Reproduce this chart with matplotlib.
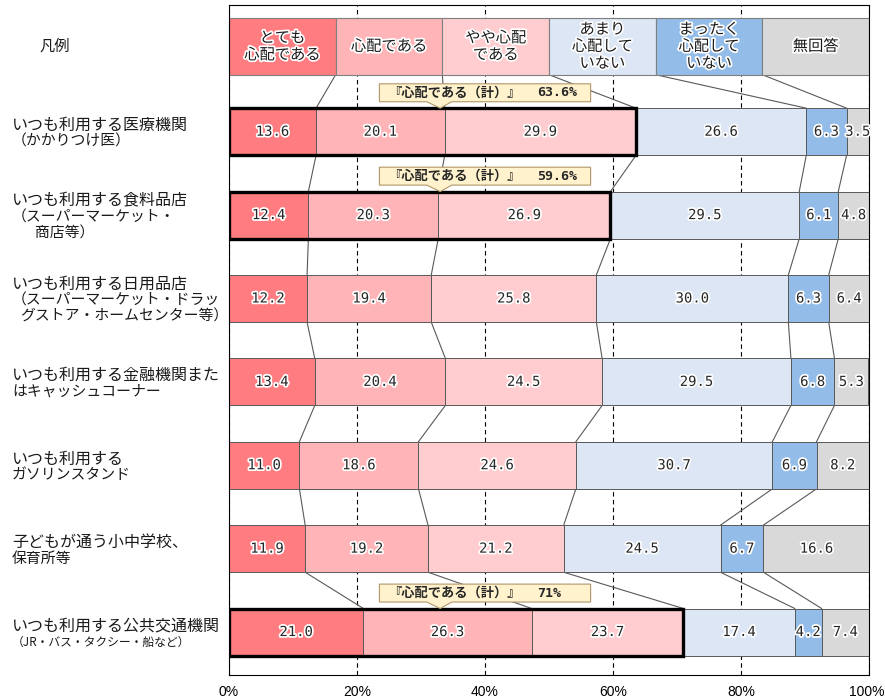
import matplotlib
matplotlib.use("Agg")
import matplotlib.pyplot as plt
import matplotlib.patheffects as pe
from matplotlib.patches import Rectangle, Polygon
from matplotlib.transforms import blended_transform_factory, ScaledTranslation
import numpy as np

# ---------------- data ----------------
category_lines = [
    ["いつも利用する医療機関", "（かかりつけ医）"],
    ["いつも利用する食料品店", "（スーパーマーケット・", "　商店等）"],
    ["いつも利用する日用品店", "（スーパーマーケット・ドラッ", "グストア・ホームセンター等）"],
    ["いつも利用する金融機関また", "はキャッシュコーナー"],
    ["いつも利用する", "ガソリンスタンド"],
    ["子どもが通う小中学校、", "保育所等"],
    ["いつも利用する公共交通機関", "（JR・バス・タクシー・船など）"],
]
legend_labels = ["とても\n心配である", "心配である", "やや心配\nである",
                 "あまり\n心配して\nいない", "まったく\n心配して\nいない", "無回答"]
very_worried     = [13.6, 12.4, 12.2, 13.4, 11.0, 11.9, 21.0]
worried          = [20.1, 20.3, 19.4, 20.4, 18.6, 19.2, 26.3]
somewhat_worried = [29.9, 26.9, 25.8, 24.5, 24.6, 21.2, 23.7]
not_much         = [26.6, 29.5, 30.0, 29.5, 30.7, 24.5, 17.4]
not_at_all       = [6.3, 6.1, 6.3, 6.8, 6.9, 6.7, 4.2]
no_answer        = [3.5, 4.8, 6.4, 5.3, 8.2, 16.6, 7.4]
highlight_rows = [0, 1, 6]
callout_title = "『心配である（計）』"
xtick_values = [0, 20, 40, 60, 80, 100]
xtick_labels = ["0%", "20%", "40%", "60%", "80%", "100%"]

colors = ["#FF7C80", "#FFB5B8", "#FFCDD0", "#DCE6F4", "#93BCE8", "#D9D9D9"]

series = [very_worried, worried, somewhat_worried, not_much, not_at_all, no_answer]
data = np.array(series).T  # rows x segments

JP = "Noto Sans CJK JP"
plt.rcParams["font.family"] = [JP, "DejaVu Sans"]

W, H = 885, 699
fig = plt.figure(figsize=(W / 100, H / 100), dpi=100)
ax = fig.add_axes([229 / W, 24 / H, 640 / W, 670 / H])
ax.set_xlim(0, 100)
ax.set_ylim(7.515, -0.52)

bar_h = 0.565
leg_y, leg_h = -0.024, 0.68
halo = [pe.withStroke(linewidth=2.5, foreground="white")]

# grid and ticks
ax.set_xticks(xtick_values)
ax.set_xticklabels(xtick_labels[:-1] + [""], fontfamily="Liberation Sans", fontsize=10)
ax.set_yticks([])
ax.tick_params(axis="x", length=0, pad=7)
ax.grid(axis="x", color="black", linestyle=(0, (4, 3)), linewidth=0.8)
ax.set_axisbelow(True)
for s in ax.spines.values():
    s.set_color("black")
    s.set_linewidth(0.8)
# last tick label, right-aligned so it stays inside the figure
last_trans = blended_transform_factory(ax.transData, ax.transAxes) + \
    ScaledTranslation(16 / 100, -7 / 72, fig.dpi_scale_trans)
ax.text(xtick_values[-1], 0, xtick_labels[-1], transform=last_trans,
        ha="right", va="top", fontfamily="Liberation Sans", fontsize=10,
        clip_on=False)

# legend row
n_seg = len(legend_labels)
leg_w = 100 / n_seg
leg_left = np.arange(n_seg) * leg_w
ax.barh([leg_y] * n_seg, [leg_w] * n_seg, left=leg_left, height=leg_h,
        color=colors, edgecolor="#7F7F7F", linewidth=0.8, zorder=2)
for k, lab in enumerate(legend_labels):
    ax.text(leg_left[k] + leg_w / 2, leg_y, lab, ha="center", va="center",
            fontsize=11, color="#1a1a1a", linespacing=1.0, zorder=5,
            path_effects=halo)

fig.text(55 / W, 1 - 46 / H, "凡例", ha="center", va="center", fontsize=11,
         color="#1a1a1a")

# bars
ys = np.arange(1, len(category_lines) + 1)
lefts = np.hstack([np.zeros((len(ys), 1)), np.cumsum(data, axis=1)[:, :-1]])
for j in range(n_seg):
    ax.barh(ys, data[:, j], left=lefts[:, j], height=bar_h, color=colors[j],
            edgecolor="#595959", linewidth=0.7, zorder=2)
    for i, y in enumerate(ys):
        ax.text(lefts[i, j] + data[i, j] / 2, y, f"{data[i, j]:.1f}",
                ha="center", va="center", fontsize=10,
                fontfamily="DejaVu Sans Mono", color="#262626", zorder=5,
                path_effects=halo)

# connector lines
cums = np.cumsum(data, axis=1)[:, :-1]
leg_bounds = leg_left[1:]
ax_lines_kw = dict(color="#595959", linewidth=0.8, zorder=1.5)
for k in range(n_seg - 1):
    ax.plot([leg_bounds[k], cums[0, k]], [leg_y + leg_h / 2, ys[0] - bar_h / 2], **ax_lines_kw)
for i in range(len(ys) - 1):
    for k in range(n_seg - 1):
        ax.plot([cums[i, k], cums[i + 1, k]],
                [ys[i] + bar_h / 2, ys[i + 1] - bar_h / 2], **ax_lines_kw)

# highlight outlines and callouts
for i in highlight_rows:
    y = ys[i]
    total = round(float(data[i, :3].sum()), 1)
    ax.add_patch(Rectangle((0, y - bar_h / 2), total, bar_h, fill=False,
                           edgecolor="black", linewidth=2.4, zorder=4))
    L, R = 23.5, 56.5
    top, bot, tip = y - 0.575, y - 0.36, y - bar_h / 2
    pts = [(L, top), (R, top), (R, bot), (34.8, bot), (33.0, tip),
           (30.9, bot), (L, bot)]
    ax.add_patch(Polygon(pts, closed=True, facecolor="#FFF2CC",
                         edgecolor="#B0976A", linewidth=0.8, zorder=6))
    cy = (top + bot) / 2
    ax.text(L + 1.4, cy, callout_title, ha="left", va="center", fontsize=9.5,
            fontweight="bold", color="#262626", zorder=7)
    ax.text(48.1, cy, f"{total:g}%", ha="left", va="center", fontsize=9.5,
            fontfamily="DejaVu Sans Mono", fontweight="bold", color="#262626", zorder=7)

# category labels
trans = blended_transform_factory(fig.transFigure, ax.transData)
indents = {(1, 2): 8, (2, 2): 8}
for i, lines in enumerate(category_lines):
    n = len(lines)
    sp = 11.9
    for li, t in enumerate(lines):
        size = 11.5 if li == 0 else 10.7
        if i == 6 and li == 1:
            size = 8.5
        off = ((n - 1) / 2 - li) * sp - 1.4
        ind = indents.get((i, li), 0) * 0.72
        ax.annotate(t, xy=(12 / W, ys[i]), xycoords=trans,
                    xytext=(ind, off), textcoords="offset points",
                    ha="left", va="center", fontsize=size, color="#1a1a1a",
                    annotation_clip=False)

fig.savefig("out.png", dpi=100)
